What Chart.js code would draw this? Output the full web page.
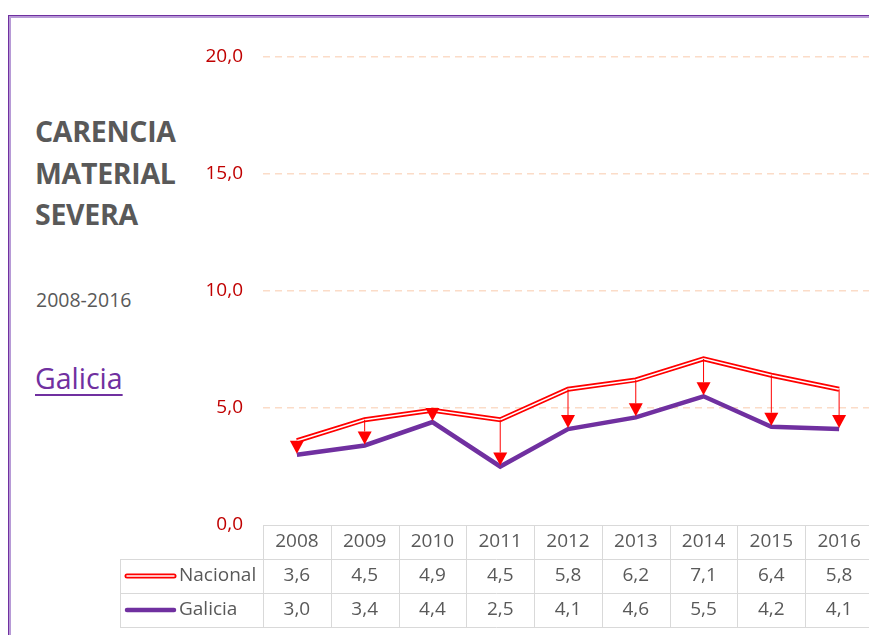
<!DOCTYPE html>
<html>
<head>
    <title>Carencia material severa</title>
    <script src="https://cdn.jsdelivr.net/npm/chart.js"></script>
    <style>
        body {
            margin: 0;
            overflow: hidden;
            background: #fff;
            font-family: "Open Sans", sans-serif;
        }
        .frame {
            position: absolute;
            left: 8px;
            top: 15px;
            width: 1000px;
            height: 800px;
            border: 1px solid #7030a0;
            box-shadow: inset 2px 2px 0 #b79ad6;
        }
        .title {
            position: absolute;
            left: 35px;
            top: 111px;
            font-size: 28.5px;
            font-weight: bold;
            line-height: 41.5px;
            color: #595959;
            letter-spacing: -0.3px;
        }
        .years {
            position: absolute;
            left: 36px;
            top: 286px;
            font-size: 19.5px;
            color: #595959;
        }
        .region {
            position: absolute;
            left: 35px;
            top: 359px;
            font-size: 28.5px;
            color: #7030a0;
            text-decoration: underline;
            text-decoration-thickness: 2px;
            text-underline-offset: 5px;
        }
        .chart-container {
            position: absolute;
            left: 0;
            top: 0;
        }
    </style>
</head>
<body>
    <div class="frame"></div>
    <div class="title">CARENCIA<br>MATERIAL<br>SEVERA</div>
    <div class="years">2008-2016</div>
    <div class="region">Galicia</div>
    <div class="chart-container">
        <canvas id="cmsChart" width="880" height="635"></canvas>
    </div>
    <script>
        const years = ['2008', '2009', '2010', '2011', '2012', '2013', '2014', '2015', '2016'];
        const nacional = [3.6, 4.5, 4.9, 4.5, 5.8, 6.2, 7.1, 6.4, 5.8];
        const galicia = [3.0, 3.4, 4.4, 2.5, 4.1, 4.6, 5.5, 4.2, 4.1];
        const yTicks = [0, 5, 10, 15, 20];

        const RED = '#ff0000';
        const PURPLE = '#7030a0';
        const GREY = '#595959';
        const FONT = '"Open Sans", sans-serif';

        function fmt(v) {
            return v.toFixed(1).replace('.', ',');
        }

        // arrows from Nacional down to Galicia
        const arrowPlugin = {
            id: 'arrows',
            afterDatasetsDraw(chart) {
                const ctx = chart.ctx;
                const xs = chart.scales.x;
                const ys = chart.scales.y;
                const headH = 13, headW = 7;
                ctx.save();
                ctx.strokeStyle = RED;
                ctx.fillStyle = RED;
                ctx.lineWidth = 1;
                years.forEach((yr, i) => {
                    const x = xs.getPixelForValue(i);
                    const y1 = ys.getPixelForValue(nacional[i]);
                    const y2 = ys.getPixelForValue(galicia[i]) - 1;
                    ctx.beginPath();
                    ctx.moveTo(x, y1);
                    ctx.lineTo(x, y2 - headH);
                    ctx.stroke();
                    ctx.beginPath();
                    ctx.moveTo(x - headW, y2 - headH);
                    ctx.lineTo(x + headW, y2 - headH);
                    ctx.lineTo(x, y2);
                    ctx.closePath();
                    ctx.fill();
                });
                ctx.restore();
            }
        };

        // data table under the plot
        const tablePlugin = {
            id: 'dataTable',
            afterDraw(chart) {
                const ctx = chart.ctx;
                const xs = chart.scales.x;
                const area = chart.chartArea;
                const colW = area.width / years.length;
                const rowH = 34;
                const top = area.bottom;
                const legendLeft = 120;
                ctx.save();
                ctx.strokeStyle = '#d9d9d9';
                ctx.lineWidth = 1;

                // horizontal lines
                ctx.beginPath();
                ctx.moveTo(area.left, top + 0.5);
                ctx.lineTo(area.right, top + 0.5);
                for (let r = 1; r <= 3; r++) {
                    ctx.moveTo(legendLeft, top + r * rowH + 0.5);
                    ctx.lineTo(area.right, top + r * rowH + 0.5);
                }
                // vertical lines
                ctx.moveTo(legendLeft + 0.5, top + rowH);
                ctx.lineTo(legendLeft + 0.5, top + 3 * rowH);
                for (let c = 0; c <= years.length; c++) {
                    const x = Math.round(area.left + c * colW) + 0.5;
                    ctx.moveTo(x, top);
                    ctx.lineTo(x, top + 3 * rowH);
                }
                ctx.stroke();

                ctx.font = '19px ' + FONT;
                ctx.fillStyle = GREY;
                ctx.textAlign = 'center';
                ctx.textBaseline = 'middle';
                years.forEach((yr, i) => {
                    const x = xs.getPixelForValue(i);
                    ctx.fillText(yr, x, top + rowH / 2);
                    ctx.fillText(fmt(nacional[i]), x, top + rowH * 1.5);
                    ctx.fillText(fmt(galicia[i]), x, top + rowH * 2.5);
                });

                // legend keys
                ctx.lineCap = 'round';
                const k1 = top + rowH * 1.5, k2 = top + rowH * 2.5;
                ctx.strokeStyle = RED;
                ctx.lineWidth = 5;
                ctx.beginPath(); ctx.moveTo(127, k1); ctx.lineTo(174, k1); ctx.stroke();
                ctx.strokeStyle = '#fff';
                ctx.lineWidth = 1.5;
                ctx.beginPath(); ctx.moveTo(127, k1); ctx.lineTo(174, k1); ctx.stroke();
                ctx.strokeStyle = PURPLE;
                ctx.lineWidth = 4.5;
                ctx.beginPath(); ctx.moveTo(127, k2); ctx.lineTo(174, k2); ctx.stroke();

                ctx.textAlign = 'left';
                ctx.fillStyle = GREY;
                ctx.fillText('Nacional', 179, k1);
                ctx.fillText('Galicia', 179, k2);
                ctx.restore();
            }
        };

        const ctx = document.getElementById('cmsChart').getContext('2d');
        new Chart(ctx, {
            type: 'line',
            data: {
                labels: years,
                datasets: [
                    {
                        label: 'Nacional',
                        data: nacional,
                        borderColor: '#fff',
                        borderWidth: 1.5,
                        pointRadius: 0,
                        tension: 0,
                        order: 0
                    },
                    {
                        label: 'Nacional borde',
                        data: nacional,
                        borderColor: RED,
                        borderWidth: 5,
                        pointRadius: 0,
                        tension: 0,
                        order: 1
                    },
                    {
                        label: 'Galicia',
                        data: galicia,
                        borderColor: PURPLE,
                        borderWidth: 4.5,
                        pointRadius: 0,
                        tension: 0,
                        order: 2
                    }
                ]
            },
            options: {
                responsive: false,
                animation: false,
                layout: {
                    padding: { left: 0, top: 57, right: 7, bottom: 110 }
                },
                plugins: {
                    legend: { display: false },
                    tooltip: { enabled: false }
                },
                scales: {
                    x: {
                        display: false,
                        offset: true
                    },
                    y: {
                        min: 0,
                        max: 20,
                        afterFit(scale) { scale.width = 263; },
                        afterBuildTicks(scale) {
                            scale.ticks = yTicks.map(v => ({ value: v }));
                        },
                        border: { display: false, dash: [7, 5] },
                        grid: {
                            drawTicks: false,
                            color: ctx => ctx.tick && ctx.tick.value === 0 ? 'rgba(0,0,0,0)' : '#fbdcc8',
                            lineWidth: 1.5
                        },
                        ticks: {
                            padding: 20,
                            color: '#c00000',
                            font: { family: FONT, size: 19 },
                            callback: v => fmt(v)
                        }
                    }
                }
            },
            plugins: [arrowPlugin, tablePlugin]
        });
    </script>
</body>
</html>
